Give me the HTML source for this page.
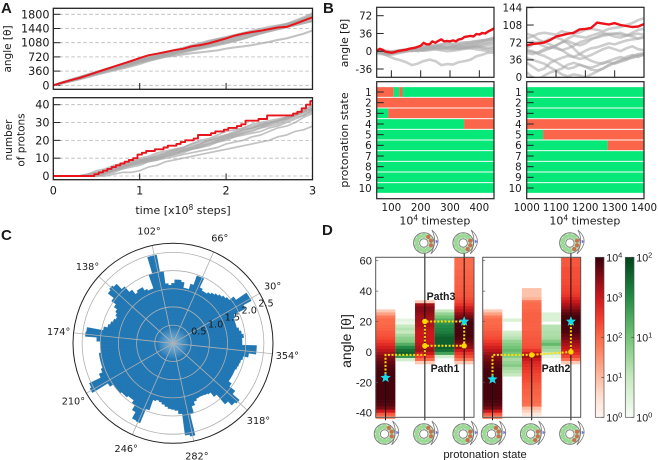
<!DOCTYPE html>
<html lang="en">
<head>
<meta charset="utf-8">
<title>Rotation and protonation figure</title>
<style>
html,body{margin:0;padding:0;background:#fff;}
#figure{display:block;width:658px;height:460px;filter:blur(.35px);}
text{font-family:"DejaVu Sans",sans-serif;fill:#1a1a1a;}
.arial text,text.arial{font-family:"Liberation Sans",sans-serif;}
</style>
</head>
<body>
<svg id="figure" xmlns="http://www.w3.org/2000/svg" width="658" height="460" viewBox="0 0 658 460">
  <defs>
    <linearGradient id="redsBar" x1="0" y1="1" x2="0" y2="0">
      <stop offset="0" stop-color="#fff5f0"/><stop offset=".125" stop-color="#fee0d2"/><stop offset=".25" stop-color="#fcbba1"/><stop offset=".375" stop-color="#fc9272"/><stop offset=".5" stop-color="#fb6a4a"/><stop offset=".625" stop-color="#ef3b2c"/><stop offset=".75" stop-color="#cb181d"/><stop offset=".875" stop-color="#850c14"/><stop offset="1" stop-color="#38000a"/>
    </linearGradient>
    <linearGradient id="greensBar" x1="0" y1="1" x2="0" y2="0">
      <stop offset="0" stop-color="#f7fcf5"/><stop offset=".25" stop-color="#c7e9c0"/><stop offset=".5" stop-color="#74c476"/><stop offset=".75" stop-color="#238b45"/><stop offset="1" stop-color="#00441b"/>
    </linearGradient>
    <radialGradient id="polarCenterGlow">
      <stop offset="0" stop-color="#b9d3e6" stop-opacity=".75"/><stop offset="1" stop-color="#b9d3e6" stop-opacity="0"/>
    </radialGradient>
  </defs>
  <g id="panelA"></g>
  <g id="panelB"></g>
  <g id="panelC"></g>
  <g id="panelD"></g>
  <text x="1" y="13" font-size="15" font-weight="700" class="arial">A</text>
  <text x="323" y="13" font-size="15" font-weight="700" class="arial">B</text>
  <text x="1" y="240" font-size="15" font-weight="700" class="arial">C</text>
  <text x="322" y="235" font-size="15" font-weight="700" class="arial">D</text>
</svg>
<script>
/* ---------- Panel A data ---------- */
var angleTicksA = [0,360,720,1080,1440,1800];
var protonTicksA = [0,10,20,30,40];
var timeTicksA = [0,1,2,3];
var angleRedA = [0,65,130,185,255,330,400,475,545,615,690,760,800,845,890,925,985,1020,1065,1125,1190,1260,1310,1350,1385,1425,1465,1480,1560,1640,1725];
var angleGrayA = [
 [0,55,110,165,230,290,350,400,450,510,575,630,680,720,750,780,810,835,860,885,930,960,985,1020,1060,1100,1150,1190,1250,1310,1390],
 [0,60,120,180,240,300,365,430,490,555,620,680,735,785,830,875,925,975,1030,1085,1135,1175,1220,1270,1320,1370,1420,1470,1520,1575,1640],
 [0,70,135,195,260,330,395,455,510,570,640,700,760,815,860,910,965,1040,1110,1170,1210,1250,1290,1335,1380,1420,1470,1530,1600,1680,1760],
 [0,55,105,160,225,285,345,410,470,530,590,650,710,765,825,880,930,985,1045,1110,1170,1230,1280,1320,1365,1410,1455,1505,1565,1640,1700],
 [0,50,115,175,235,300,355,415,475,540,605,670,725,770,815,860,905,945,990,1040,1085,1130,1190,1255,1330,1400,1465,1530,1610,1690,1800],
 [0,65,130,200,270,335,400,465,520,575,630,690,740,790,830,865,900,950,1000,1060,1120,1190,1260,1320,1375,1430,1490,1560,1640,1730,1830],
 [0,60,125,190,250,310,375,440,505,565,625,680,730,780,835,895,955,1025,1090,1150,1190,1225,1265,1305,1360,1420,1480,1530,1570,1610,1650],
 [0,45,100,150,205,265,320,375,425,480,540,610,670,725,780,830,880,925,970,1015,1065,1120,1180,1245,1310,1370,1425,1480,1530,1580,1620],
 [0,75,145,210,280,345,410,470,535,600,665,725,785,840,895,950,1010,1070,1130,1180,1225,1275,1330,1385,1435,1480,1520,1560,1610,1660,1730],
 [0,55,110,170,230,295,360,420,480,545,610,665,715,760,805,855,910,970,1040,1115,1190,1250,1300,1345,1390,1440,1495,1550,1605,1660,1715]
];
var protonRedA = [0,0,0,0,0,0,0,0,0,0,1,2,3,4,5,6,7,8,9,10,12,13,14,14,15,15,16,17,17,18,19,20,20,21,23,23,23,24,25,25,26,27,27,28,29,31,31,31,32,32,34,34,34,34,34,34,35,36,38,40,42];
var protonGrayA = [
 [0,0,0,0,0,0,0,1,2,2,3,5,6,8,9,10,11,12,13,14,15,16,17,18,19,20,22,23,25,26,28],
 [0,0,0,0,1,2,3,5,6,8,9,10,11,13,14,15,17,18,20,21,23,24,26,27,28,30,31,33,34,36,38],
 [0,0,0,0,0,1,2,3,5,6,8,9,10,11,13,14,15,16,18,19,20,22,23,24,25,27,28,30,32,34,36],
 [0,0,0,0,1,3,4,6,7,8,10,11,13,14,15,16,18,20,21,23,25,26,27,29,30,31,32,33,35,37,40],
 [0,0,0,0,0,1,3,4,5,7,8,9,10,12,13,14,15,17,18,20,22,24,26,27,29,30,31,32,34,36,38],
 [0,0,0,0,0,0,1,2,4,5,6,8,9,10,11,12,13,14,15,16,18,19,20,22,23,25,27,28,30,33,35],
 [0,0,0,0,1,2,3,4,6,7,9,10,12,13,15,16,18,19,20,22,23,25,27,28,29,30,31,33,35,37,39],
 [0,0,0,0,0,1,2,3,4,6,7,8,9,11,12,13,15,16,17,19,21,22,24,26,27,29,30,32,34,35,37],
 [0,0,0,0,0,0,1,3,5,6,7,9,10,11,12,14,16,18,20,21,22,23,25,27,28,29,31,32,34,36,38],
 [0,0,0,0,0,1,2,4,5,7,8,10,11,12,14,15,16,17,19,20,21,23,24,25,27,28,29,31,33,34,37]
];

/* ---------- Panel B data ---------- */
var angleTicksBL = [-36,0,36,72];
var angleTicksBR = [0,36,72,108,144];
var timeTicksBL = [100,200,300,400];
var timeTicksBR = [1000,1100,1200,1300,1400];
var stateLabels = [1,2,3,4,5,6,7,8,9,10];
var angleRedBL = [0,5,3,-1,-2,-3,-2,0,1,2,3,5,6,7,9,11,17,14,14,20,17,21,24,20,21,20,22,20,24,25,29,30,31,30,35,34,37,36,40,43,46];
var angleGrayBL = [
 [0,-5,-10,-15,-18,-22,-28,-25,-20,-17,-20,-28,-26,-27,-22,-20,-17,-10,-7,-3,-3],
 [0,2,0,-3,-2,1,3,4,3,5,7,9,8,10,12,13,15,17,20,24,28],
 [-3,-2,-4,-3,0,2,1,3,5,6,5,4,6,8,7,6,9,11,8,7,9],
 [2,0,-2,-1,1,3,5,7,10,12,11,13,15,13,14,17,18,20,22,24,26],
 [-5,-6,-8,-6,-3,-1,2,3,1,2,4,2,0,1,3,5,6,4,2,0,2],
 [0,-1,-3,-2,0,3,6,8,9,10,12,14,16,15,17,18,19,21,22,23,24],
 [3,1,-1,0,2,4,2,0,2,4,6,8,5,4,6,8,10,12,14,16,18],
 [-2,-4,-5,-3,-2,0,3,5,7,9,7,6,8,9,11,12,14,15,17,19,22],
 [1,-1,-2,0,1,3,4,2,4,6,9,11,10,9,10,8,7,9,6,4,6],
 [-1,-3,-6,-4,-1,1,0,2,6,8,10,9,7,6,5,7,9,8,11,13,14]
];
var angleRedBR = [66,69,70,72,77,84,87,90,92,99,100,102,113,111,109,112,108,106,104,105,110];
var angleGrayBR = [
 [80,85,90,92,90,88,95,92,90,93,98,100,98,95,100,102,104,108,112,118,122],
 [55,52,50,55,60,66,72,75,70,66,70,78,84,88,90,90,88,86,88,90,88],
 [50,48,52,58,62,60,56,60,65,72,76,80,82,86,88,90,92,88,84,80,82],
 [90,86,78,72,68,62,56,48,42,48,55,60,62,66,70,68,72,76,78,80,84],
 [30,22,14,18,30,36,40,44,42,38,40,34,30,28,34,38,42,38,44,48,50],
 [10,0,-5,4,10,14,6,2,6,4,0,6,12,18,26,30,34,38,40,44,46],
 [40,36,32,28,20,14,18,26,30,26,22,20,24,30,32,28,32,36,42,46,48],
 [60,68,72,74,80,82,78,70,60,48,42,46,52,58,62,58,54,60,64,58,56],
 [72,74,70,64,60,66,72,80,86,84,82,86,90,92,88,84,82,86,92,98,100],
 [56,54,48,44,38,32,24,18,20,26,22,16,14,18,24,30,36,42,46,42,48]
];
/* state, start, end, protonated(1)/not(0) */
var stateSpansBL = [[1,50,108,1],[1,108,127,0],[1,127,138,1],[1,138,450,0],[2,50,450,1],[3,50,89,0],[3,89,450,1],[4,50,348,0],[4,348,450,1],[5,50,450,0],[6,50,450,0],[7,50,450,0],[8,50,450,0],[9,50,450,0],[10,50,450,0]];
var stateSpansBR = [[1,1000,1400,0],[2,1000,1400,0],[3,1000,1400,0],[4,1000,1400,1],[5,1000,1056,0],[5,1056,1400,1],[6,1000,1276,0],[6,1276,1400,1],[7,1000,1400,0],[8,1000,1400,0],[9,1000,1400,0],[10,1000,1400,0]];

/* ---------- Panel C data ---------- */
var polarAngleLabels = [354,30,66,102,138,174,210,246,282,318];
var polarRadialLabels = [0.5,1.0,1.5,2.0,2.5];
/* one bar per 3 degrees starting at 0 */
var polarValues = [1.9,1.9,1.95,1.9,1.85,1.8,1.8,1.8,1.85,2.2,2.45,2.45,2.1,1.95,1.9,1.85,1.8,1.75,1.7,1.65,1.65,1.7,1.97,1.97,1.7,1.55,1.55,1.7,1.75,1.75,1.65,1.6,1.65,2.0,2.47,2.47,2.0,1.6,1.6,1.65,1.75,1.75,1.7,1.85,2.05,2.25,2.3,2.25,2.05,1.9,1.8,1.75,1.7,1.75,1.8,1.85,1.95,2.4,2.42,2.1,2,2,2,2.05,2.05,2.05,2.05,2.1,2.2,2.55,2.6,2.1,2,2,2,1.95,1.95,1.9,1.9,2.0,2.15,2.35,2.37,1.95,1.65,1.62,1.65,1.7,1.75,1.8,1.82,1.85,1.95,2.55,2.6,2.0,1.8,1.7,1.65,1.64,1.65,1.67,1.7,1.85,2.2,2.35,2.4,2.15,1.95,1.85,1.85,1.85,1.85,1.88,1.9,1.92,1.96,2.1,2.3,2.3];

/* ---------- Panel D data (log10 counts; 2-degree bins from 62 down to -44) ---------- */
var heatAngleTicks = [-40,-20,0,20,40,60];
var heatLeftC1 = [0,0,0,0,0,0,0,0,0,0,0,0,0,0,0,0,0,.8,1.3,1.8,2,2,2.05,2.1,2.2,2.25,2.35,2.5,2.7,2.9,3.1,3.3,3.5,3.6,3.7,3.8,3.85,3.9,3.9,3.9,3.9,3.9,3.9,3.9,3.9,3.9,3.9,3.85,3.8,3.6,3,2.2,1.5];
var heatLeftC2 = [0,0,0,0,0,0,0,0,0,0,0,0,0,0,0,0,0,0,0,0,.2,.1,.5,.6,.5,.7,.85,.9,1.2,1.5,1.7,1.8,1.4,.4,0,0,0,0,0,0,0,0,0,0,0,0,0,0,0,0,0,0,0];
var heatLeftC3 = [0,0,0,0,0,0,0,0,0,0,0,0,0,0,.8,3.3,3.5,3.5,3.4,3.3,3.3,3.2,3.2,3.1,3,3,3,3,3.1,3.2,3.3,3,2.5,2,.8,0,0,0,0,0,0,0,0,0,0,0,0,0,0,0,0,0,0];
var heatLeftC4 = [0,0,0,0,0,0,0,0,0,0,0,0,0,0,0,0,0,.5,.8,1,1.2,1.4,1.5,1.55,1.6,1.7,1.8,1.8,1.8,1.8,1.7,1.3,.4,0,0,0,0,0,0,0,0,0,0,0,0,0,0,0,0,0,0,0,0];
var heatLeftC5 = [2,2,2,2,2.05,2.05,2.1,2.1,2.1,2.15,2.15,2.2,2.2,2.3,2.4,2.6,2.9,3.1,3.4,3.6,3.8,3.9,3.9,3.9,3.9,3.9,3.85,3.7,3.55,3.4,3,2.6,2.3,1.8,.8,0,0,0,0,0,0,0,0,0,0,0,0,0,0,0,0,0,0];
var heatRightC1 = [0,0,0,0,0,0,0,0,0,0,0,0,0,0,0,0,0,.8,1.3,1.8,2,2,2.05,2.1,2.2,2.25,2.35,2.5,2.7,2.9,3.1,3.3,3.5,3.6,3.7,3.8,3.85,3.9,3.9,3.9,3.9,3.9,3.9,3.9,3.9,3.9,3.9,3.85,3.8,3.6,3,2.2,1.5];
var heatRightC2 = [0,0,0,0,0,0,0,0,0,0,0,0,0,0,0,0,0,0,0,0,.3,0,0,0,.4,.5,.6,.8,.9,1,1.1,1,.9,.7,.8,.9,.7,.6,.5,0,0,0,0,0,0,0,0,0,0,0,0,0,0];
var heatRightC3 = [0,0,0,0,0,0,0,0,0,0,.9,.9,.9,1.1,1.9,2,2,2.05,2.1,2.1,2.1,2.1,2.1,2.1,2.15,2.15,2.2,2.2,2.25,2.3,2.6,3,3.3,3,2.8,2.7,2.6,2.5,2.4,2.35,2.3,2.2,2.15,2.1,2.1,2.05,2,2,1.9,1,.7,.3,0];
var heatRightC4 = [0,0,0,0,0,0,0,0,0,0,0,0,0,0,0,0,0,0,.3,.3,.3,0,.6,.6,.65,.65,.7,.9,1.1,.8,.7,.5,.2,0,0,0,0,0,0,0,0,0,0,0,0,0,0,0,0,0,0,0,0];
var heatRightC5 = [2.2,2.2,2.2,2.3,2.3,2.3,2.3,2.35,2.35,2.4,2.45,2.5,2.6,2.8,3,3.2,3.4,3.6,3.8,3.9,3.95,3.95,3.9,3.9,3.85,3.7,3.6,3.4,3.25,3.1,2.9,2.7,2.4,1.9,.8,0,0,0,0,0,0,0,0,0,0,0,0,0,0,0,0,0,0];
var pathLeftNodes = [[0,-17],[0,-2],[2,-2],[2,4],[2,20],[4,20],[4,4],[2,4]];
var pathRightNodes = [[0,-18],[0,-2],[2,-2],[4,0],[4,20]];
var colorbarRedExponents = [0,1,2,3,4];
var colorbarGreenExponents = [0,1,2];
var iconBottomColumnsLeft = [0,2,4];
var iconBottomColumnsRight = [0,2,4];

/* ---------- helpers ---------- */
var NS = 'http://www.w3.org/2000/svg';
function mk(tag, attrs, parent){
  var e = document.createElementNS(NS, tag);
  for (var k in attrs) e.setAttribute(k, attrs[k]);
  parent.appendChild(e);
  return e;
}
function lin(d0,d1,r0,r1){ return function(v){ return r0+(v-d0)*(r1-r0)/(d1-d0); }; }
function label(parent, x, y, s, size, anchor, rot){
  var a = {x:x, y:y, 'font-size':size, 'text-anchor':anchor||'middle'};
  if (rot) a.transform = 'rotate('+rot+' '+x+' '+y+')';
  var t = mk('text', a, parent);
  t.textContent = s;
  return t;
}
function pathStr(xs, ys, step){
  var d = '';
  for (var i=0;i<xs.length;i++){
    if (i===0) d += 'M'+xs[i].toFixed(1)+' '+ys[i].toFixed(1);
    else if (step) d += 'H'+((xs[i]+xs[i-1])/2).toFixed(1)+'V'+ys[i].toFixed(1)+'H'+xs[i].toFixed(1);
    else d += 'L'+xs[i].toFixed(1)+' '+ys[i].toFixed(1);
  }
  return d;
}
function traceLine(parent, values, xScale, yScale, x0, x1, color, width, step, opacity){
  var xs = values.map(function(_,i){ return xScale(x0+(x1-x0)*i/(values.length-1)); });
  var ys = values.map(yScale);
  return mk('path', {d:pathStr(xs,ys,step), fill:'none', stroke:color, 'stroke-width':width, 'stroke-opacity':opacity||1, 'stroke-linejoin':'round'}, parent);
}
var clipCount = 0;
function clipFor(x,y,w,h){
  clipCount++;
  var id = 'clip'+clipCount;
  var c = mk('clipPath', {id:id}, document.querySelector('#figure defs'));
  mk('rect', {x:x,y:y,width:w,height:h}, c);
  return 'url(#'+id+')';
}
function tickLine(parent,x1,y1,x2,y2,w){
  return mk('line',{x1:x1,y1:y1,x2:x2,y2:y2,stroke:'#222','stroke-width':w||1},parent);
}

/* ---------- Panel A ---------- */
(function(){
  var root = document.getElementById('panelA');
  var L=53.3,R=312.5;
  var x = lin(0,3,L,R);
  var yT = lin(0,1800,85.3,14.3), yB = lin(0,40,176,104.7);
  var topG = mk('g',{},root);
  
  
  var botG = mk('g',{},root);
  
  

  angleTicksA.forEach(function(v){
    var g = mk('line',{x1:L,x2:R,y1:yT(v),y2:yT(v),stroke:'#b5b5b5','stroke-width':.8,'stroke-dasharray':'3.5 2.5'},topG);
    
    
    var tk = tickLine(topG,L,yT(v),L+7,yT(v));
    
    
    var t = label(topG,49.5,yT(v)+4,String(v),11.2,'end');
    
    
  });
  var cT = mk('g',{'clip-path':clipFor(L,8.3,R-L,81)},topG);
  angleGrayA.forEach(function(s){
    var p = traceLine(cT,s,x,yT,0,3,'#a8a8a8',2,false,.7);
    
    
  });
  var rT = traceLine(cT,angleRedA,x,yT,0,3,'#e8141c',2,false);
  
  

  protonTicksA.forEach(function(v){
    var g = mk('line',{x1:L,x2:R,y1:yB(v),y2:yB(v),stroke:'#b5b5b5','stroke-width':.8,'stroke-dasharray':'3.5 2.5'},botG);
    
    
    var tk = tickLine(botG,L,yB(v),L+7,yB(v));
    
    
    var t = label(botG,49.5,yB(v)+4,String(v),11.2,'end');
    
    
  });
  var cB = mk('g',{'clip-path':clipFor(L,97.7,R-L,82)},botG);
  protonGrayA.forEach(function(s){
    var p = traceLine(cB,s,x,yB,0,3,'#a8a8a8',1.7,false,.7);
    
    
  });
  var rB = traceLine(cB,protonRedA,x,yB,0,3,'#e8141c',1.9,true);
  
  

  timeTicksA.forEach(function(v){
    if (v>0 && v<3){
      var a = tickLine(topG,x(v),89,x(v),83);
      
      
      var b = tickLine(botG,x(v),179.5,x(v),173.5);
      
      
    }
    var t = label(botG,x(v),194.5,String(v),11.2);
    
    
  });
  var f1 = mk('rect',{x:L,y:8.3,width:R-L,height:81,fill:'none',stroke:'#222','stroke-width':1.3},topG);
  
  
  var f2 = mk('rect',{x:L,y:97.7,width:R-L,height:82,fill:'none',stroke:'#222','stroke-width':1.3},botG);
  
  

  var yl = label(topG,11,49,'angle [θ]',10.5,'middle',-90);
  
  
  var yl2 = label(botG,12,140,'number',10.5,'middle',-90);
  
  
  var yl3 = label(botG,24.5,140,'of protons',10.5,'middle',-90);
  
  
  var xl = label(botG,183,214,'time [x10',11);
  
  
  var s1 = mk('tspan',{dy:-4,'font-size':7.5},xl); s1.textContent='8';
  var s2 = mk('tspan',{dy:4},xl); s2.textContent=' steps]';
})();

/* ---------- Panel B ---------- */
(function(){
  var root = document.getElementById('panelB');
  function build(cfg){
    var g = mk('g',{},root);
    
    
    var x = lin(cfg.x0,cfg.x1,cfg.L,cfg.R);
    var y = lin(cfg.yA,cfg.yB,cfg.pA,cfg.pB);
    var T=7.3,B=77.3,ST=81.7,SB=198.7;
    var c = mk('g',{'clip-path':clipFor(cfg.L,T,cfg.R-cfg.L,B-T)},g);
    cfg.gray.forEach(function(s){
      var p = traceLine(c,s,x,y,cfg.x0,cfg.x1,'#acacac',2.6,false,.6);
      
      
    });
    var r = traceLine(c,cfg.red,x,y,cfg.x0,cfg.x1,'#ec1218',2.4,false);
    
    
    cfg.yTicks.forEach(function(v){
      var tk = tickLine(g,cfg.L,y(v),cfg.L+7,y(v));
      
      
      var t = label(g,cfg.L-4.5,y(v)+3.8,String(v),10.3,'end');
      
      
    });
    cfg.xTicks.forEach(function(v){
      if (v>cfg.x0 && v<cfg.x1){
        var tk = tickLine(g,x(v),B,x(v),B-7);
        
        
      }
      var t = label(g,x(v),211,String(v),10.3);
      
      
    });
    var rowY = lin(1,10,92,188);
    cfg.spans.forEach(function(sp){
      var rect = mk('rect',{x:x(sp[1]),y:rowY(sp[0])-4.85,width:x(sp[2])-x(sp[1]),height:9.7,fill:sp[3]?'#fb6549':'#06e878'},g);
      
      
    });
    stateLabels.forEach(function(n){
      var tk = tickLine(g,cfg.L,rowY(n),cfg.L+7,rowY(n));
      
      
      var t = label(g,cfg.L-5,rowY(n)+3.8,String(n),10.3,'end');
      
      
    });
    var f1 = mk('rect',{x:cfg.L,y:T,width:cfg.R-cfg.L,height:B-T,fill:'none',stroke:'#222','stroke-width':1.2},g);
    
    
    var f2 = mk('rect',{x:cfg.L,y:ST,width:cfg.R-cfg.L,height:SB-ST,fill:'none',stroke:'#222','stroke-width':1.2},g);
    
    
    var xl = label(g,(cfg.L+cfg.R)/2-.5,224.5,'10',11);
    
    
    var s1 = mk('tspan',{dy:-4,'font-size':7.5},xl); s1.textContent='4';
    var s2 = mk('tspan',{dy:4},xl); s2.textContent=' timestep';
  }
  build({name:'early-window-plots',L:376.7,R:494,x0:50,x1:450,yA:-36,yB:72,pA:69,pB:15.7,red:angleRedBL,gray:angleGrayBL,yTicks:angleTicksBL,xTicks:timeTicksBL,spans:stateSpansBL});
  build({name:'late-window-plots',L:526.7,R:644,x0:1000,x1:1400,yA:0,yB:144,pA:77.3,pB:7.6,red:angleRedBR,gray:angleGrayBR,yTicks:angleTicksBR,xTicks:timeTicksBR,spans:stateSpansBR});
  var a = label(root,348,43,'angle [θ]',10.8,'middle',-90);
  
  
  var b = label(root,348,140,'protonation state',11,'middle',-90);
  
  
})();

/* ---------- Panel C ---------- */
(function(){
  var root = document.getElementById('panelC');
  var cx=173, cy=343.3, Rmax=100;
  var rr = lin(0,2.75,0,Rmax);
  function pt(deg,r){ var a=deg*Math.PI/180; return [cx+r*Math.cos(a), cy-r*Math.sin(a)]; }
  var bg = mk('circle',{cx:cx,cy:cy,r:Rmax,fill:'#fff'},root);
  
  
  var bars = mk('g',{},root);
  
  
  polarValues.forEach(function(v,i){
    var mid = i*360/polarValues.length;
    var half = 180/polarValues.length;
    var p1 = pt(mid-half,rr(v)), p2 = pt(mid+half,rr(v));
    var w = mk('path',{d:'M'+cx+' '+cy+'L'+p1[0].toFixed(2)+' '+p1[1].toFixed(2)+'A'+rr(v).toFixed(2)+' '+rr(v).toFixed(2)+' 0 0 0 '+p2[0].toFixed(2)+' '+p2[1].toFixed(2)+'Z',fill:'#2077b4',stroke:'#2077b4','stroke-width':.35},bars);
    
    
  });
  var glow = mk('circle',{cx:cx,cy:cy,r:16,fill:'url(#polarCenterGlow)'},root);
  
  
  polarRadialLabels.forEach(function(v){
    var c = mk('circle',{cx:cx,cy:cy,r:rr(v),fill:'none',stroke:'#b0b0b0','stroke-width':.8},root);
    
    
  });
  polarAngleLabels.forEach(function(d){
    var p = pt(d,Rmax);
    var l = mk('line',{x1:cx,y1:cy,x2:p[0],y2:p[1],stroke:'#b0b0b0','stroke-width':.8},root);
    
    
    var q = pt(d,115);
    var t = label(root,q[0],q[1]+3.5,d+'°',9.7);
    
    
  });
  polarRadialLabels.forEach(function(v){
    var p = pt(22.5,rr(v));
    var t = label(root,p[0]+9,p[1]-2,v.toFixed(1),9.7);
    
    
  });
  var o = mk('circle',{cx:cx,cy:cy,r:Rmax,fill:'none',stroke:'#222','stroke-width':1},root);
  
  
})();

/* ---------- Panel D ---------- */
(function(){
  var root = document.getElementById('panelD');
  var yD = lin(-40,60,412.7,260.7);
  var T=257.3,B=417.3;
  var redStops = [[255,245,240],[254,224,210],[252,187,161],[252,146,114],[251,106,74],[239,59,44],[203,24,29],[133,12,20],[56,0,10]];
  var greenStops = [[247,252,245],[199,233,192],[116,196,118],[35,139,69],[0,68,27]];
  function ramp(stops,t){
    t = Math.max(0,Math.min(1,t));
    var f = t*(stops.length-1), i = Math.min(stops.length-2,Math.floor(f)), u = f-i;
    var c = [0,1,2].map(function(k){ return Math.round(stops[i][k]+(stops[i+1][k]-stops[i][k])*u); });
    return 'rgb('+c.join(',')+')';
  }
  function column(parent,values,x0,w,isRed){
    values.forEach(function(v,i){
      if (v<=0) return;
      var top = 62-2*i;
      var r = mk('rect',{x:x0,y:yD(top).toFixed(2),width:w,height:(yD(top-2)-yD(top)+.3).toFixed(2),fill:isRed?ramp(redStops,v/4):ramp(greenStops,v/2)},parent);
      
      
    });
  }
  function star(parent,cx,cy){
    var pts=[];
    for (var i=0;i<10;i++){
      var r=i%2?2.4:5.4, a=-Math.PI/2+i*Math.PI/5;
      pts.push((cx+r*Math.cos(a)).toFixed(1)+','+(cy+r*Math.sin(a)).toFixed(1));
    }
    var s = mk('polygon',{points:pts.join(' '),fill:'#18d9e6'},parent);
    
    
  }
  function ringIcon(parent,cx,cy,redIdx){
    var g = mk('g',{},parent);
    
    
    mk('path',{d:'M'+(cx+8)+' '+(cy-13)+'Q'+(cx+21)+' '+(cy-2)+' '+(cx+7)+' '+(cy+11)+'Q'+(cx+14)+' '+(cy-2)+' '+(cx+8)+' '+(cy-13)+'Z',fill:'#fff',stroke:'#777','stroke-width':.8},g);
    mk('path',{d:'M'+(cx+12)+' '+(cy-3)+'l2.5 1.5l-2.5 1.5z',fill:'#7078e0',stroke:'#7078e0','stroke-width':.4},g);
    mk('circle',{cx:cx,cy:cy,r:10.3,fill:'#cfeccb',stroke:'#777','stroke-width':.9},g);
    for (var i=0;i<10;i++){
      var a = (i*36+18)*Math.PI/180;
      var isR = redIdx.indexOf(i)>=0;
      mk('circle',{cx:(cx+7.5*Math.cos(a)).toFixed(1),cy:(cy+7.5*Math.sin(a)).toFixed(1),r:2.2,fill:isR?'#cf6e4c':'#9ddc96',stroke:'#7fbf7f','stroke-width':.3},g);
    }
    mk('circle',{cx:cx,cy:cy,r:4.2,fill:'#fff',stroke:'#777','stroke-width':.8},g);
  }
  function panel(cfg){
    var g = mk('g',{},root);
    
    
    var w = (cfg.R-cfg.L)/5;
    cfg.cols.forEach(function(vals,i){
      column(g,vals,cfg.L+i*w,w,i%2===0);
    });
    var colX = function(i){ return cfg.L+(i+.5)*w; };
    cfg.vlines.forEach(function(v){
      var l = mk('line',{x1:colX(v[0]),x2:colX(v[0]),y1:v[1]===null?T-8:yD(v[1]),y2:B+3,stroke:'#111','stroke-width':1},g);
      
      
    });
    heatAngleTicks.forEach(function(v){
      var tk = mk('line',{x1:cfg.L,x2:cfg.L+2.5,y1:yD(v),y2:yD(v),stroke:'#555','stroke-width':.7},g);
      
      
    });
    var f = mk('rect',{x:cfg.L,y:T,width:cfg.R-cfg.L,height:B-T,fill:'none',stroke:'#555','stroke-width':1},g);
    
    
    cfg.paths.forEach(function(nodes){
      var xs = nodes.map(function(n){ return colX(n[0]); });
      var ys = nodes.map(function(n){ return yD(n[1]); });
      var p = mk('path',{d:pathStr(xs,ys,false),fill:'none',stroke:'#ffdf00','stroke-width':2,'stroke-dasharray':'2 1.6'},g);
      
      
    });
    cfg.dots.forEach(function(n){
      var d = mk('circle',{cx:colX(n[0]),cy:yD(n[1]),r:2.7,fill:'#ffd900'},g);
      
      
    });
    cfg.stars.forEach(function(n){ star(g,colX(n[0]),yD(n[1])); });
    cfg.bottomIcons.forEach(function(c,k){ ringIcon(g,colX(c)-1,434,cfg.iconReds[k]); });
    cfg.topIcons.forEach(function(c,k){ ringIcon(g,colX(c)-1,243,cfg.topReds[k]); });
  }
  panel({name:'path-heatmap-left',L:375.7,R:474,cols:[heatLeftC1,heatLeftC2,heatLeftC3,heatLeftC4,heatLeftC5],
    vlines:[[0,-17],[2,null],[4,null]],paths:[pathLeftNodes],dots:[[2,20],[2,4],[4,4]],stars:[[0,-17],[4,20]],
    bottomIcons:iconBottomColumnsLeft,iconReds:[[8,9,0],[8,9,0],[9,0,1]],topIcons:[2,4],topReds:[[8,9,0],[9,0,1]]});
  panel({name:'path-heatmap-right',L:482.7,R:580.7,cols:[heatRightC1,heatRightC2,heatRightC3,heatRightC4,heatRightC5],
    vlines:[[0,-18],[2,-2],[4,null]],paths:[pathRightNodes],dots:[[2,-2],[4,0]],stars:[[0,-18],[4,20]],
    bottomIcons:iconBottomColumnsRight,iconReds:[[8,9,0],[9,0,1],[9,0,1]],topIcons:[4],topReds:[[9,0,1]]});

  heatAngleTicks.forEach(function(v){
    var t = label(root,372,yD(v)+4,String(v),11.2,'end');
    t.setAttribute('class','arial');
    
    
  });
  var yt = label(root,351,341,'angle [θ]',14,'middle',-90);
  yt.setAttribute('class','arial');
  
  
  var xt = label(root,485,458,'protonation state',11.2);
  xt.setAttribute('class','arial');
  
  
  var p3 = label(root,441,300,'Path3',10.6);
  p3.setAttribute('class','arial');
  p3.setAttribute('font-weight','700');
  
  
  var p1 = label(root,445,372,'Path1',10.6);
  p1.setAttribute('class','arial');
  p1.setAttribute('font-weight','700');
  
  
  var p2 = label(root,556,372,'Path2',10.6);
  p2.setAttribute('class','arial');
  p2.setAttribute('font-weight','700');
  
  

  function colorbar(name,x,fill,exps,tickName){
    var g = mk('g',{},root);
    
    
    mk('rect',{x:x,y:T,width:8.7,height:B-T,fill:fill,stroke:'#555','stroke-width':.7},g);
    var top = exps[exps.length-1];
    var sc = lin(0,top,B,T);
    exps.forEach(function(e){
      var tk = mk('line',{x1:x+8.7,x2:x+6,y1:sc(e),y2:sc(e),stroke:'#444','stroke-width':.7},g);
      
      
      var t = label(g,x+11,sc(e)+4,'10',10.6,'start');
      t.setAttribute('class','arial');
      
      
      var s = mk('tspan',{dy:-4,'font-size':7.5},t);
      s.textContent = String(e);
    });
  }
  colorbar('red-colorbar',595.3,'url(#redsBar)',colorbarRedExponents,'red-colorbar');
  colorbar('green-colorbar',625.3,'url(#greensBar)',colorbarGreenExponents,'green-colorbar');
})();
</script>
</body>
</html>
